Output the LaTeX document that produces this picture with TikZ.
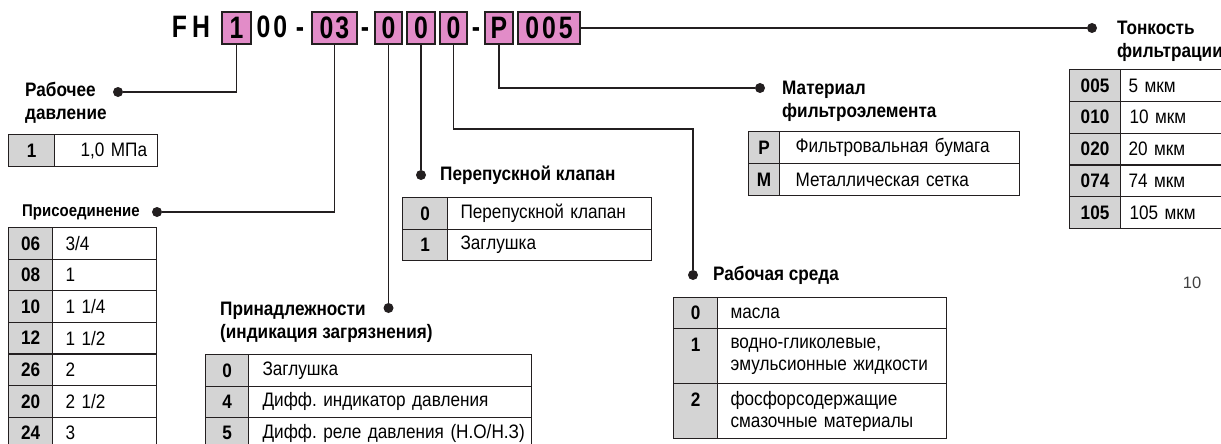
\documentclass[tikz,border=0pt]{standalone}
\usepackage{fontspec}
\setmainfont{Liberation Sans}[FakeStretch=0.88]
\newfontfamily\titlefont{Liberation Sans}[FakeStretch=0.8]
\newfontfamily\pagefont{Liberation Sans}
\frenchspacing

\definecolor{codepink}{RGB}{226,140,200}
\definecolor{codegray}{RGB}{212,212,212}
\definecolor{linedark}{RGB}{35,31,32}

\begin{document}
\begin{tikzpicture}[x=1pt,y=-1pt,
font=\fontsize{19.5}{22}\selectfont,
codebox/.style={rectangle, draw=linedark, fill=codepink, line width=1.2pt, minimum height=32pt, inner sep=0pt, font=\fontsize{31}{31}\titlefont\bfseries},
codetext/.style={anchor=base, inner sep=0pt, font=\fontsize{31}{31}\titlefont\bfseries},
dotnode/.style={circle, fill=linedark, minimum size=10pt, inner sep=0pt},
headtext/.style={anchor=west, align=left, inner sep=0pt, font=\fontsize{19.5}{23}\selectfont\bfseries},
keycell/.style={rectangle, draw=linedark, fill=codegray, line width=1.1pt, anchor=north west, inner sep=0pt, align=center, font=\fontsize{19.5}{22}\selectfont\bfseries},
desccell/.style={rectangle, draw=linedark, fill=white, line width=1.1pt, anchor=north west, inner sep=0pt, align=left, text width=#1, execute at begin node={\leftskip=13pt\relax}},
link/.style={draw=linedark, line width=1.8pt}
]
\useasboundingbox (0,0) rectangle (1221,444);

%Code
\node[codetext] (fh) at (191,38) {F\hspace{5pt}H};
\node[codebox, minimum width=29pt] (b1) at (236.5,28) {1};
\node[codetext] (zz) at (272,38) {0\hspace{3pt}0};
\node[codetext] (dashA) at (300,38) {-};
\node[codebox, minimum width=45pt] (b03) at (334.5,28) {0\hspace{2pt}3};
\node[codetext] (dashB) at (365,38) {-};
\node[codebox, minimum width=27pt] (b0a) at (388.5,28) {0};
\node[codebox, minimum width=28pt] (b0b) at (421,28) {0};
\node[codebox, minimum width=27pt] (b0c) at (453.5,28) {0};
\node[codetext] (dashC) at (476,38) {-};
\node[codebox, minimum width=28pt] (bP) at (499,28) {P};
\node[codebox, minimum width=62pt] (b005) at (549,28) {0\hspace{3pt}0\hspace{3pt}5};

%Labels
\node[dotnode] (dotPres) at (118,92) {};
\node[headtext] (lblPres) at (25,103) {Рабочее\\давление};
\node[dotnode] (dotConn) at (157,212) {};
\node[headtext, font=\fontsize{17}{20}\selectfont\bfseries] (lblConn) at (22,212) {Присоединение};
\node[dotnode] (dotAcc) at (388.5,308) {};
\node[headtext] (lblAcc) at (220,322) {Принадлежности\\(индикация загрязнения)};
\node[dotnode] (dotBypass) at (421,175) {};
\node[headtext] (lblBypass) at (440,175) {Перепускной клапан};
\node[dotnode] (dotMed) at (693,275) {};
\node[headtext] (lblMed) at (713,275) {Рабочая среда};
\node[dotnode] (dotMat) at (760,88) {};
\node[headtext] (lblMat) at (782,101) {Материал\\фильтроэлемента};
\node[dotnode] (dotFine) at (1092,28) {};
\node[headtext] (lblFine) at (1117,41) {Тонкость\\фильтрации};
\node[font=\fontsize{16.5}{16.5}\pagefont, text=black!75] (pagenum) at (1192,283) {10};

%Tables
\node[keycell, minimum width=46pt, minimum height=32pt] (presK1) at (8,134) {1};
\node[desccell=103pt, minimum height=32pt, execute at begin node={\leftskip=26pt\relax}] (presD1) at (54,134) {1,0 МПа};

\node[keycell, minimum width=44pt, minimum height=31.6pt] (connK1) at (8,227) {06};
\node[desccell=104pt, minimum height=31.6pt] (connD1) at (52,227) {3/4};
\node[keycell, minimum width=44pt, minimum height=31.6pt] (connK2) at (8,258.6) {08};
\node[desccell=104pt, minimum height=31.6pt] (connD2) at (52,258.6) {1};
\node[keycell, minimum width=44pt, minimum height=31.6pt] (connK3) at (8,290.2) {10};
\node[desccell=104pt, minimum height=31.6pt] (connD3) at (52,290.2) {1 1/4};
\node[keycell, minimum width=44pt, minimum height=31.6pt] (connK4) at (8,321.8) {12};
\node[desccell=104pt, minimum height=31.6pt] (connD4) at (52,321.8) {1 1/2};
\node[keycell, minimum width=44pt, minimum height=31.6pt] (connK5) at (8,353.4) {26};
\node[desccell=104pt, minimum height=31.6pt] (connD5) at (52,353.4) {2};
\node[keycell, minimum width=44pt, minimum height=31.6pt] (connK6) at (8,385) {20};
\node[desccell=104pt, minimum height=31.6pt] (connD6) at (52,385) {2 1/2};
\node[keycell, minimum width=44pt, minimum height=31.6pt] (connK7) at (8,416.6) {24};
\node[desccell=104pt, minimum height=31.6pt] (connD7) at (52,416.6) {3};

\node[keycell, minimum width=43pt, minimum height=31.5pt] (accK1) at (205,354) {0};
\node[desccell=283pt, minimum height=31.5pt, execute at begin node={\leftskip=14pt\relax}] (accD1) at (248,354) {Заглушка};
\node[keycell, minimum width=43pt, minimum height=31.5pt] (accK2) at (205,385.5) {4};
\node[desccell=283pt, minimum height=31.5pt, execute at begin node={\leftskip=14pt\relax}] (accD2) at (248,385.5) {Дифф. индикатор давления};
\node[keycell, minimum width=43pt, minimum height=31.5pt] (accK3) at (205,417) {5};
\node[desccell=283pt, minimum height=31.5pt, execute at begin node={\leftskip=14pt\relax}] (accD3) at (248,417) {\mbox{Дифф. реле давления (Н.О/Н.З)}};

\node[keycell, minimum width=45pt, minimum height=31.5pt] (bypK1) at (402,197) {0};
\node[desccell=204pt, minimum height=31.5pt] (bypD1) at (447,197) {Перепускной клапан};
\node[keycell, minimum width=45pt, minimum height=31.5pt] (bypK2) at (402,228.5) {1};
\node[desccell=204pt, minimum height=31.5pt] (bypD2) at (447,228.5) {Заглушка};

\node[keycell, minimum width=44pt, minimum height=31pt] (medK1) at (673,297) {0};
\node[desccell=229pt, minimum height=31pt] (medD1) at (717,297) {масла};
\node[keycell, minimum width=44pt, minimum height=55pt] (medK2) at (673,328) {1\\\mbox{}};
\node[desccell=229pt, minimum height=55pt] (medD2) at (717,328) {водно-гликолевые,\\эмульсионные жидкости};
\node[keycell, minimum width=44pt, minimum height=55pt] (medK3) at (673,383) {2\\\mbox{}};
\node[desccell=229pt, minimum height=55pt] (medD3) at (717,383) {фосфорсодержащие\\смазочные материалы};

\node[keycell, minimum width=31pt, minimum height=32pt] (matK1) at (748,131) {P};
\node[desccell=240pt, minimum height=32pt, execute at begin node={\leftskip=16pt\relax}] (matD1) at (779,131) {Фильтровальная бумага};
\node[keycell, minimum width=31pt, minimum height=32pt] (matK2) at (748,163) {M};
\node[desccell=240pt, minimum height=32pt, execute at begin node={\leftskip=16pt\relax}] (matD2) at (779,163) {Металлическая сетка};

\node[keycell, minimum width=51pt, minimum height=31.8pt] (finK1) at (1069,69) {005};
\node[desccell=130pt, minimum height=31.8pt, execute at begin node={\leftskip=8pt\relax}] (finD1) at (1120,69) {5 мкм};
\node[keycell, minimum width=51pt, minimum height=31.8pt] (finK2) at (1069,100.8) {010};
\node[desccell=130pt, minimum height=31.8pt, execute at begin node={\leftskip=9pt\relax}] (finD2) at (1120,100.8) {10 мкм};
\node[keycell, minimum width=51pt, minimum height=31.8pt] (finK3) at (1069,132.6) {020};
\node[desccell=130pt, minimum height=31.8pt, execute at begin node={\leftskip=8pt\relax}] (finD3) at (1120,132.6) {20 мкм};
\node[keycell, minimum width=51pt, minimum height=31.8pt] (finK4) at (1069,164.4) {074};
\node[desccell=130pt, minimum height=31.8pt, execute at begin node={\leftskip=8pt\relax}] (finD4) at (1120,164.4) {74 мкм};
\node[keycell, minimum width=51pt, minimum height=31.8pt] (finK5) at (1069,196.2) {105};
\node[desccell=130pt, minimum height=31.8pt, execute at begin node={\leftskip=9pt\relax}] (finD5) at (1120,196.2) {105 мкм};

%Lines
\coordinate (bendMed) at (693,129);
\draw[link] (b1.south) |- (dotPres);
\draw[link] (b03.south) |- (dotConn);
\draw[link] (b0a.south) -- (dotAcc);
\draw[link] (b0b.south) -- (dotBypass);
\draw[link] (b0c.south) |- (bendMed) -- (dotMed);
\draw[link] (bP.south) |- (dotMat);
\draw[link] (b005.east) -- (dotFine);
\end{tikzpicture}
\end{document}
